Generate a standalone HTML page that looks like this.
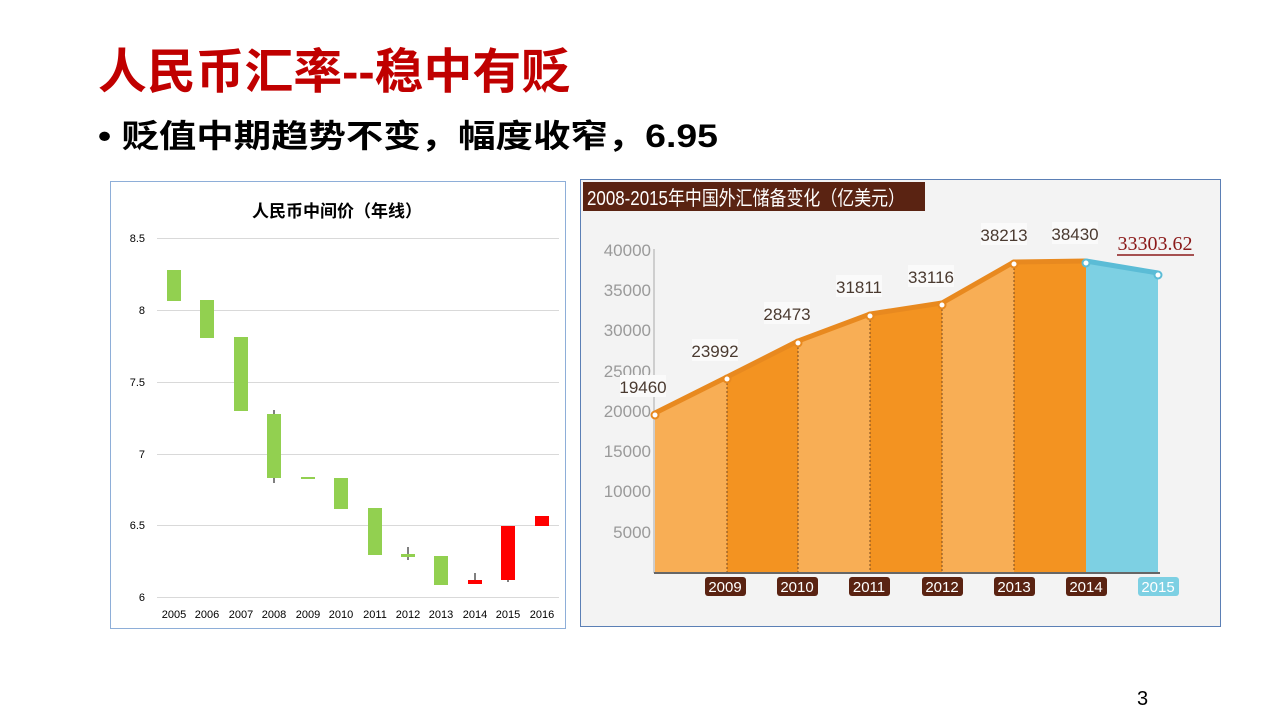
<!DOCTYPE html>
<html><head><meta charset="utf-8"><style>
body{margin:0;width:1280px;height:720px;background:#fff;overflow:hidden}
svg{display:block}
</style></head><body>
<svg width="1280" height="720" viewBox="0 0 1280 720" font-family="Liberation Sans, Noto Sans CJK SC, sans-serif">
<text x="98" y="88" font-size="48" font-weight="bold" fill="#c00000" textLength="472" lengthAdjust="spacingAndGlyphs" font-family="Liberation Sans, Noto Sans CJK SC, sans-serif">人民币汇率--稳中有贬</text>
<text x="98" y="147" font-size="32" font-weight="bold" fill="#000" textLength="620" lengthAdjust="spacingAndGlyphs">• 贬值中期趋势不变，幅度收窄，6.95</text>
<text x="1137" y="705" font-size="20" fill="#000">3</text>

<!-- left chart -->
<rect x="110.5" y="181.5" width="455" height="447" fill="#fff" stroke="#8eaed8"/>
<text x="337" y="217" font-size="17" font-weight="bold" text-anchor="middle">人民币中间价（年线）</text>
<g stroke="#d9d9d9" stroke-width="1">
<line x1="157" x2="559" y1="238.5" y2="238.5"/><line x1="157" x2="559" y1="310.5" y2="310.5"/>
<line x1="157" x2="559" y1="382.5" y2="382.5"/><line x1="157" x2="559" y1="454.5" y2="454.5"/>
<line x1="157" x2="559" y1="525.5" y2="525.5"/><line x1="157" x2="559" y1="597.5" y2="597.5"/>
</g>
<g font-size="11" fill="#000" text-anchor="end">
<text x="145" y="242">8.5</text><text x="145" y="314">8</text><text x="145" y="386">7.5</text>
<text x="145" y="458">7</text><text x="145" y="529">6.5</text><text x="145" y="601">6</text>
</g>
<g font-size="11" fill="#000" text-anchor="middle">
<text x="174" y="618">2005</text><text x="207" y="618">2006</text><text x="241" y="618">2007</text><text x="274" y="618">2008</text>
<text x="308" y="618">2009</text><text x="341" y="618">2010</text><text x="375" y="618">2011</text><text x="408" y="618">2012</text>
<text x="441" y="618">2013</text><text x="475" y="618">2014</text><text x="508" y="618">2015</text><text x="542" y="618">2016</text>
</g>
<g stroke="#000" stroke-width="1">
<line x1="274" x2="274" y1="410" y2="483"/><line x1="408" x2="408" y1="547" y2="560"/>
<line x1="475" x2="475" y1="573" y2="584"/><line x1="508" x2="508" y1="579" y2="582"/>
</g>
<g fill="#92d050">
<rect x="167" y="270" width="14" height="31"/><rect x="200" y="300" width="14" height="38"/>
<rect x="234" y="337" width="14" height="74"/><rect x="267" y="414" width="14" height="64"/>
<rect x="301" y="477" width="14" height="2"/><rect x="334" y="478" width="14" height="31"/>
<rect x="368" y="508" width="14" height="47"/><rect x="401" y="554" width="14" height="3"/>
<rect x="434" y="556" width="14" height="29"/>
</g>
<g fill="#ff0000">
<rect x="468" y="580" width="14" height="4"/><rect x="501" y="526" width="14" height="54"/>
<rect x="535" y="516" width="14" height="10"/>
</g>

<!-- right chart -->
<rect x="580.5" y="179.5" width="640" height="447" fill="#f3f3f3" stroke="#5b7fb5"/>
<rect x="583" y="182" width="342" height="29" fill="#5a2312"/>
<text x="587" y="205" font-size="20" fill="#fff" textLength="318" lengthAdjust="spacingAndGlyphs">2008-2015年中国外汇储备变化（亿美元）</text>
<g font-size="17" fill="#9a9a9a" text-anchor="end">
<text x="651" y="256">40000</text><text x="651" y="296">35000</text><text x="651" y="336">30000</text>
<text x="651" y="377">25000</text><text x="651" y="417">20000</text><text x="651" y="457">15000</text>
<text x="651" y="497">10000</text><text x="651" y="538">5000</text>
</g>
<polygon points="655,415 727,379 727,573 655,573" fill="#f8ae55"/>
<polygon points="727,379 798,343 798,573 727,573" fill="#f39321"/>
<polygon points="798,343 870,316 870,573 798,573" fill="#f8ae55"/>
<polygon points="870,316 942,305 942,573 870,573" fill="#f39321"/>
<polygon points="942,305 1014,264 1014,573 942,573" fill="#f8ae55"/>
<polygon points="1014,264 1086,263 1086,573 1014,573" fill="#f39321"/>
<polygon points="1086,263 1158,275 1158,573 1086,573" fill="#7dd0e3"/>
<g stroke="#7a4a20" stroke-dasharray="2,2" stroke-width="1">
<line x1="727" x2="727" y1="379" y2="573"/><line x1="798" x2="798" y1="343" y2="573"/>
<line x1="870" x2="870" y1="316" y2="573"/><line x1="942" x2="942" y1="305" y2="573"/>
<line x1="1014" x2="1014" y1="264" y2="573"/>
</g>
<line x1="654" x2="654" y1="249" y2="573" stroke="#aaa"/>
<line x1="654" x2="1160" y1="573" y2="573" stroke="#666" stroke-width="2"/>
<polyline points="655,413 727,377 798,341 870,314 942,303 1014,262 1086,261" fill="none" stroke="#e8891f" stroke-width="5"/>
<polyline points="1086,261 1158,273" fill="none" stroke="#5bbcd6" stroke-width="5"/>
<g fill="#fff" stroke="#e8891f" stroke-width="2">
<circle cx="655" cy="415" r="3.5"/><circle cx="727" cy="379" r="3.5"/><circle cx="798" cy="343" r="3.5"/>
<circle cx="870" cy="316" r="3.5"/><circle cx="942" cy="305" r="3.5"/><circle cx="1014" cy="264" r="3.5"/>
</g>
<g fill="#fff" stroke="#5bbcd6" stroke-width="2"><circle cx="1086" cy="263" r="3.5"/><circle cx="1158" cy="275" r="3.5"/></g>
<g font-size="17" fill="#4a3a30" text-anchor="middle">
<rect x="620" y="375" width="46" height="22" fill="#fafafa"/><text x="643" y="393">19460</text>
<rect x="692" y="339" width="46" height="22" fill="#fafafa"/><text x="715" y="357">23992</text>
<rect x="764" y="302" width="46" height="22" fill="#fafafa"/><text x="787" y="320">28473</text>
<rect x="836" y="275" width="46" height="22" fill="#fafafa"/><text x="859" y="293">31811</text>
<rect x="908" y="265" width="46" height="22" fill="#fafafa"/><text x="931" y="283">33116</text>
<rect x="981" y="223" width="46" height="22" fill="#fafafa"/><text x="1004" y="241">38213</text>
<rect x="1052" y="222" width="46" height="22" fill="#fafafa"/><text x="1075" y="240">38430</text>
</g>
<text x="1155" y="250" font-size="20" fill="#8b1a1a" text-anchor="middle" font-family="Liberation Serif, serif">33303.62</text>
<line x1="1117" x2="1194" y1="255" y2="255" stroke="#8b1a1a" stroke-width="1.5"/>
<g font-size="15" fill="#fff" text-anchor="middle">
<rect x="705" y="577" width="41" height="19" rx="3" fill="#5a2312"/><text x="725" y="592">2009</text>
<rect x="777" y="577" width="41" height="19" rx="3" fill="#5a2312"/><text x="797" y="592">2010</text>
<rect x="849" y="577" width="41" height="19" rx="3" fill="#5a2312"/><text x="869" y="592">2011</text>
<rect x="922" y="577" width="41" height="19" rx="3" fill="#5a2312"/><text x="942" y="592">2012</text>
<rect x="994" y="577" width="41" height="19" rx="3" fill="#5a2312"/><text x="1014" y="592">2013</text>
<rect x="1066" y="577" width="41" height="19" rx="3" fill="#5a2312"/><text x="1086" y="592">2014</text>
<rect x="1138" y="577" width="41" height="19" rx="3" fill="#7dd0e3"/><text x="1158" y="592">2015</text>
</g>
</svg>
</body></html>
